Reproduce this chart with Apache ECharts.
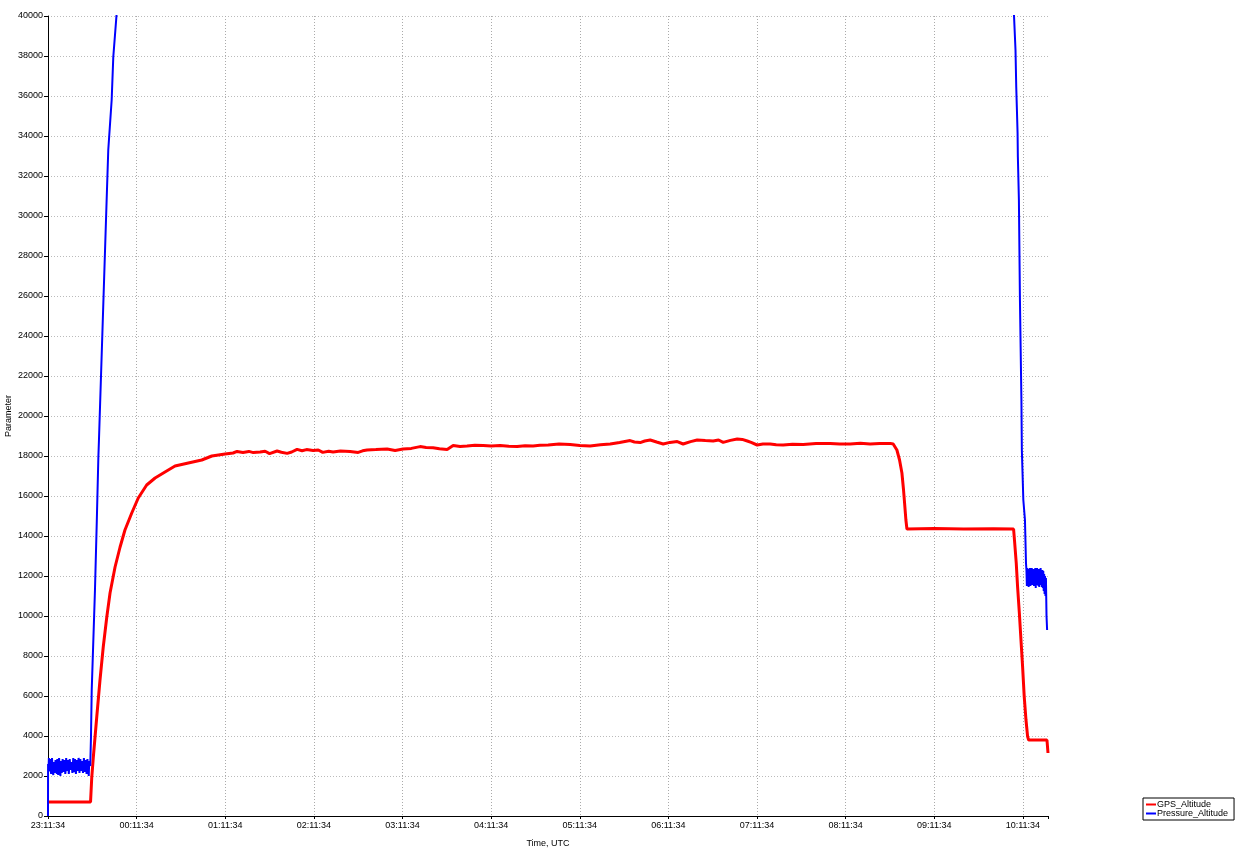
<!DOCTYPE html>
<html>
<head>
<meta charset="utf-8">
<script src="https://cdn.jsdelivr.net/npm/echarts@6/dist/echarts.min.js"></script>
<style>
html,body{margin:0;padding:0;background:#fff;}
#chart{width:1238px;height:849px;}
</style>
</head>
<body>
<div id="chart"></div>
<script>
// Time axis: minutes since 23:11:34 UTC
const timeLabels = ['23:11:34','00:11:34','01:11:34','02:11:34','03:11:34','04:11:34','05:11:34','06:11:34','07:11:34','08:11:34','09:11:34','10:11:34'];
const yTicks = [0,2000,4000,6000,8000,10000,12000,14000,16000,18000,20000,22000,24000,26000,28000,30000,32000,34000,36000,38000,40000];
const seriesNames = ['GPS_Altitude','Pressure_Altitude'];

// [minutes, value]
const gpsAltitude = [
[0,700],[28.8,700],[29.6,1900],[30.7,2950],[33.0,4950],[35.2,6800],[37.4,8450],[39.8,9950],[42.0,11150],[45.4,12450],[48.8,13450],[52.1,14300],[56.7,15150],[61.1,15900],[66.8,16550],[72.5,16900],[79.2,17200],[86.0,17500],[95.0,17650],[104.1,17800],[110.9,18000],[119.9,18100],[125.3,18150],[128.0,18230],[132,18180],[136,18230],[139,18170],[143.6,18200],[147,18240],[150,18120],[155.1,18250],[158,18190],[161.9,18130],[165,18200],[168.6,18330],[172,18260],[175,18320],[179.5,18270],[183,18300],[186,18180],[190,18240],[193.0,18200],[198,18250],[204.5,18230],[210,18180],[213,18260],[216.0,18300],[222,18320],[229.6,18350],[235,18280],[240.4,18350],[246,18380],[251.9,18470],[256,18430],[260.7,18410],[265,18360],[270.2,18330],[274.3,18530],[279,18480],[283.7,18500],[289,18540],[294.6,18530],[300,18500],[306.1,18520],[312,18490],[317.6,18470],[323,18510],[328.4,18500],[333,18540],[338.6,18550],[346,18600],[353.5,18570],[360,18530],[367.0,18500],[374,18560],[380.6,18600],[387,18680],[394.1,18770],[397,18700],[400.9,18670],[404,18750],[407.7,18800],[412,18700],[416.5,18600],[421,18680],[426.0,18720],[430.0,18600],[435,18720],[439.5,18800],[445,18770],[450.3,18750],[454,18800],[457.1,18680],[462,18780],[466.6,18850],[470,18830],[473.4,18750],[476,18680],[480.1,18550],[484,18600],[488.9,18600],[493,18560],[497.7,18550],[504,18590],[511.3,18580],[520,18620],[529.6,18630],[536,18600],[543.1,18600],[550,18640],[556.6,18600],[563,18620],[570.2,18630],[572.2,18600],[574.7,18300],[576.5,17800],[578.1,17150],[579.2,16300],[579.9,15650],[580.8,14800],[581.5,14350],[600,14370],[620,14350],[640,14360],[653.7,14350],[654.3,13800],[655.5,12650],[656.4,11470],[657.6,10150],[658.7,8800],[659.8,7470],[660.9,5970],[662.1,4800],[663.2,3970],[663.9,3800],[676.3,3800],[677.0,3150]
];

const pressureAltitude = [
[0,0],[0.05,2600],
[0.3,2200],[0.6,2900],[0.9,2250],[1.2,2150],[1.5,2850],[1.8,2800],[2.1,2100],[2.4,2300],[2.7,2900],[3.0,2850],[3.3,2200],[3.6,2050],[3.9,2700],[4.2,2750],[4.5,2150],[4.8,2250],[5.1,2800],[5.4,2900],[5.7,2300],[6.0,2100],
[6.3,2850],[6.6,2700],[6.9,2050],[7.2,2350],[7.5,2900],[7.8,2850],[8.1,2250],[8.4,2000],[8.7,2750],[9.0,2800],[9.3,2150],[9.6,2250],[9.9,2850],[10.2,2900],[10.5,2200],[10.8,2100],[11.1,2800],[11.4,2650],[11.7,2100],[12.0,2300],
[12.3,2900],[12.6,2850],[12.9,2250],[13.2,2150],[13.5,2800],[13.8,2750],[14.1,2100],[14.4,2050],[14.7,2850],[15.0,2900],[15.3,2300],[15.6,2250],[15.9,2700],[16.2,2800],[16.5,2150],[16.8,2100],[17.1,2900],[17.4,2700],[17.7,2200],[18.0,2350],
[18.3,2850],[18.6,2900],[18.9,2100],[19.2,2000],[19.5,2800],[19.8,2850],[20.1,2250],[20.4,2200],[20.7,2900],[21.0,2750],[21.3,2150],[21.6,2100],[21.9,2850],[22.2,2900],[22.5,2250],[22.8,2300],[23.1,2750],[23.4,2800],[23.7,2150],[24.0,2050],
[24.3,2900],[24.6,2850],[24.9,2200],[25.2,2250],[25.5,2800],[25.8,2700],[26.1,2100],[26.4,2150],[26.7,2850],[27.0,2900],[27.3,2250],[27.6,2000],[27.9,2750],[28.2,2800],
[28.6,2500],[29.1,3950],[29.6,6300],[30.7,8800],[31.8,11300],[33.0,14650],[34.1,17950],[34.5,18800],[39.7,30800],[40.8,33300],[43.1,35800],[44.2,37950],[46.5,40150],[49,42500],[60,50000],
[640,50000],[653.2,41000],[654.0,40000],[655.0,38300],[655.5,36450],[655.9,35450],[656.4,34150],[656.6,32950],[657.3,30800],[658.0,25800],[659.0,20800],[659.3,18300],[660.3,15800],[661.4,14800],[662.1,12650],
[662.4,12300],[662.7,11500],[663.0,12400],[663.3,11600],[663.6,12200],[663.9,11450],[664.2,12350],[664.5,11700],[664.8,12400],[665.1,11500],[665.4,12250],[665.7,11600],[666.0,12400],[666.3,11550],[666.6,12300],[666.9,11700],[667.2,12350],[667.5,11500],[667.8,12200],[668.1,11650],[668.4,12400],[668.7,11400],[669.0,12300],[669.3,11550],[669.6,12400],[669.9,11600],[670.2,12250],[670.5,11500],[670.8,12350],[671.1,11450],[671.4,12300],[671.7,11600],[672.0,12400],[672.3,11550],[672.6,12200],[672.9,11450],[673.2,12300],[673.5,11400],[673.8,12250],[674.1,11250],[674.4,12100],[674.7,11100],[675.0,12000],[675.3,11000],[675.6,11900],[676.0,10000],[676.4,9300]
];

const chart = echarts.init(document.getElementById('chart'), null, {renderer:'canvas'});
const font = 'Liberation Sans, Arial, sans-serif';
const option = {
  animation: false,
  backgroundColor: '#ffffff',
  textStyle: {fontFamily: font},
  grid: {left: 48, right: 190, top: 16, bottom: 33, containLabel: false, outerBoundsMode: 'none'},
  legend: {
    data: seriesNames,
    orient: 'vertical',
    left: 1143, top: 798,
    width: 92,
    padding: [2, 6, 2, 3],
    itemGap: 0,
    itemWidth: 10, itemHeight: 2,
    icon: 'rect',
    borderColor: '#000', borderWidth: 1, borderRadius: 0,
    backgroundColor: '#fff',
    textStyle: {fontSize: 9, color: '#000', fontFamily: font, padding: [0,0,0,-4], lineHeight: 9}
  },
  xAxis: {
    type: 'value', min: 0, max: 677, interval: 60,
    name: 'Time, UTC', nameLocation: 'middle', nameGap: 23,
    nameTextStyle: {fontSize: 9, color: '#000', fontFamily: font},
    axisLine: {show: true, onZero: false, lineStyle: {color: '#000', width: 1}},
    axisTick: {show: true, length: 3, lineStyle: {color: '#000'}},
    axisLabel: {fontSize: 9, color: '#000', margin: 5, fontFamily: font,
      formatter: v => (v % 60 === 0 && timeLabels[v/60]) ? timeLabels[v/60] : ''},
    splitLine: {show: true, showMaxLine: false, lineStyle: {color: '#aaa', type: [1,2], width: 1}}
  },
  yAxis: {
    type: 'value', min: yTicks[0], max: yTicks[yTicks.length-1], interval: 2000,
    name: 'Parameter', nameLocation: 'middle', nameGap: 35, nameRotate: 90, nameMoveOverlap: false,
    nameTextStyle: {fontSize: 9, color: '#000', fontFamily: font},
    axisLine: {show: true, onZero: false, lineStyle: {color: '#000', width: 1}},
    axisTick: {show: true, length: 4, lineStyle: {color: '#000'}},
    axisLabel: {fontSize: 9, color: '#000', margin: 5, fontFamily: font, formatter: v => String(v)},
    splitLine: {show: true, lineStyle: {color: '#bbb', type: [1,2], width: 1}}
  },
  series: [
    {name: seriesNames[0], type: 'line', data: gpsAltitude, showSymbol: false, symbol: 'none',
     color: '#ff0000', lineStyle: {color: '#ff0000', width: 3}, clip: true},
    {name: seriesNames[1], type: 'line', data: pressureAltitude, showSymbol: false, symbol: 'none',
     color: '#0000ff', lineStyle: {color: '#0000ff', width: 2}, clip: true}
  ]
};
chart.setOption(option);
</script>
</body>
</html>
